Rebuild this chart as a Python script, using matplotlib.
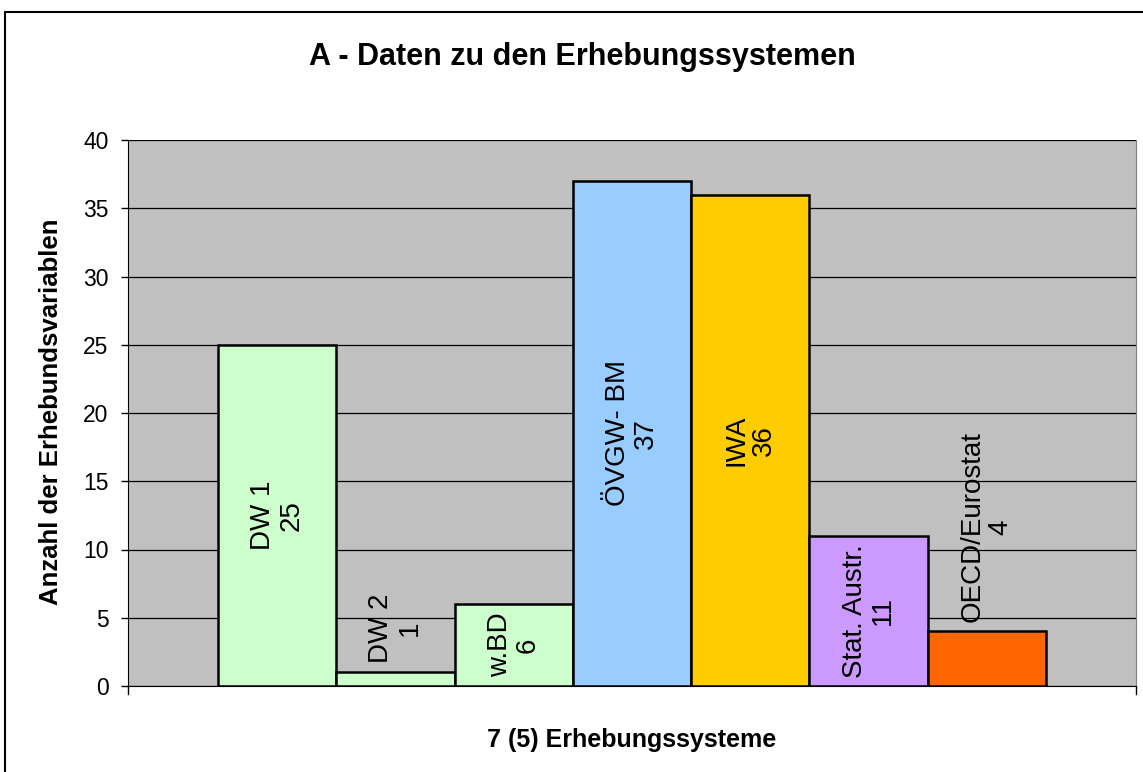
import matplotlib
matplotlib.use("Agg")
import matplotlib.pyplot as plt
from matplotlib.patches import Rectangle

categories = ["DW 1", "DW 2", "w.BD", "ÖVGW- BM", "IWA", "Stat. Austr.", "OECD/Eurostat"]
values = [25, 1, 6, 37, 36, 11, 4]
colors = ["#CCFFCC", "#CCFFCC", "#CCFFCC", "#99CCFF", "#FFCC00", "#CC99FF", "#FF6600"]
yticks = [0, 5, 10, 15, 20, 25, 30, 35, 40]
title = "A - Daten zu den Erhebungssystemen"
ylabel = "Anzahl der Erhebundsvariablen"
xlabel = "7 (5) Erhebungssysteme"

plt.rcParams['font.family'] = ['Liberation Sans', 'DejaVu Sans']

W, H = 1143, 772
fig = plt.figure(figsize=(W / 100, H / 100), dpi=100)
ax = fig.add_axes([128 / W, 1 - 686 / H, (1136 - 128) / W, (686 - 140) / H])
ax.set_facecolor("#C0C0C0")

# figure border
fig.patches.append(Rectangle((5 / W, -0.01), 1.2, 1 - 12 / H + 0.01, transform=fig.transFigure,
                             fill=False, edgecolor="black", linewidth=1.5))

x = list(range(len(values)))
ax.set_axisbelow(True)
ax.yaxis.grid(True, color="black", linewidth=0.9)
ax.bar(x, values, width=1.0, color=colors, edgecolor="black", linewidth=1.8, zorder=3)

margin = 0.761
ax.set_xlim(-0.5 - margin, len(values) - 0.5 + margin)
ax.set_ylim(0, 40)
ax.set_yticks(yticks)
ax.set_yticklabels([str(t) for t in yticks], fontsize=16.5)
ax.set_xticks([])
ax.tick_params(axis="y", length=5, width=1, pad=9, direction="out")
ax.spines["top"].set_visible(False)
ax.spines["right"].set_color("#808080")
ax.spines["left"].set_color("black")
ax.spines["bottom"].set_color("black")
ax.spines["bottom"].set_zorder(4)

# small ticks at ends of the x axis
for xe in ax.get_xlim():
    ax.plot([xe, xe], [0, -0.55], color="black", lw=1, clip_on=False)

fig.text(582 / W, 1 - 57 / H, title, ha="center", va="center", fontsize=22, fontweight="bold")
fig.text(51 / W, 1 - 412 / H, ylabel, ha="center", va="center", rotation=90, fontsize=18.5, fontweight="bold")
fig.text(632 / W, 1 - 740 / H, xlabel, ha="center", va="center", fontsize=18, fontweight="bold")

# bar labels: centred inside the bar, or just above it if it does not fit
fig.canvas.draw()
renderer = fig.canvas.get_renderer()
for xi, v, c in zip(x, values, categories):
    t = ax.text(xi, v / 2, f"{c}\n{v}", rotation=90, ha="center", va="center",
                fontsize=20, linespacing=1.1, zorder=5, multialignment="center")
    bb = t.get_window_extent(renderer)
    bar_px = ax.transData.transform((0, v))[1] - ax.transData.transform((0, 0))[1]
    if bb.height > bar_px - 4:
        t.set_va("bottom")
        y0 = ax.transData.transform((0, v))[1] + 9
        t.set_position((xi, ax.transData.inverted().transform((0, y0))[1]))

fig.savefig("out.png", dpi=100)
